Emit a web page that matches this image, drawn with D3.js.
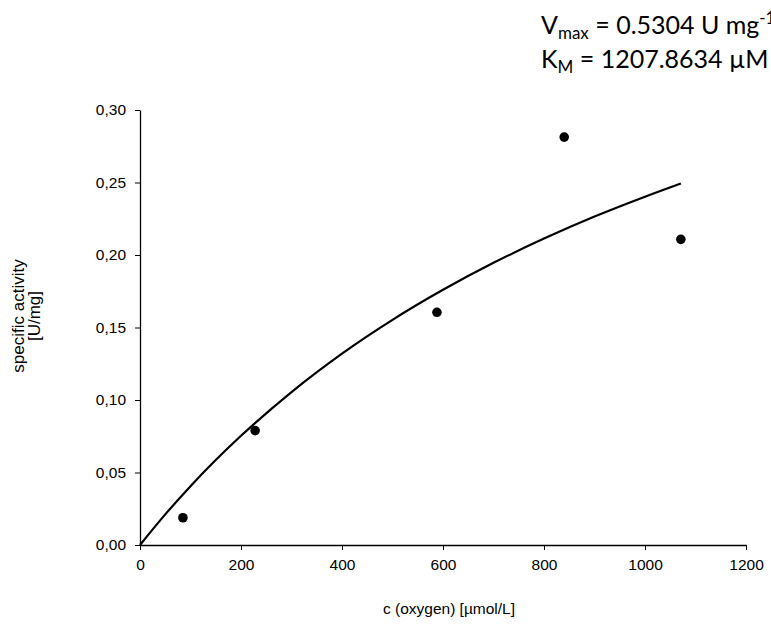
<html lang='en'>
  <head>
    <meta charset='UTF-8' />
    <script src='https://d3js.org/d3.v7.min.js'></script>
    <style>
      body { margin: 0; background: #fff; }
      .note { font-family: Lato, 'Open Sans', sans-serif; font-size: 25px; fill: #000; }
    </style>
    <title>Michaelis-Menten</title>
  </head>
  <body>
  <div id='chart'></div>
  <script>
  // measured points
  const concs = [85, 228, 588, 840, 1071];
  const activity = [0.0188, 0.0789, 0.1605, 0.2813, 0.2108];

  // fitted curve
  const curveX = [0, 50, 100, 200, 300, 400, 500, 600, 700, 800, 900, 1000, 1071];
  const curveY = [0, 0.0211, 0.0406, 0.0753, 0.1055, 0.1320, 0.1553, 0.1760, 0.1946, 0.2113, 0.2265, 0.2402, 0.2493];

  const xTicks = [0, 200, 400, 600, 800, 1000, 1200];
  const yTicks = [0, 0.05, 0.10, 0.15, 0.20, 0.25, 0.30];

  const width = 771;
  const height = 625;
  const axisFont = "'Liberation Sans', Arial, sans-serif";

  const svg = d3.select("#chart")
    .append("svg")
    .attr("width", width)
    .attr("height", height);

  const x = d3.scaleLinear().domain([0, 1200]).range([140, 746]);
  const y = d3.scaleLinear().domain([0, 0.30]).range([545, 110]);

  const fmt = (d) => d3.format(".2f")(d).replace(".", ",");

  //axes
  const gx = svg.append("g")
    .attr("transform", `translate(0,${y(0)})`)
    .call(d3.axisBottom(x).tickValues(xTicks).tickFormat(d3.format("d")).tickSize(5).tickPadding(9).tickSizeOuter(0));

  const gy = svg.append("g")
    .attr("transform", `translate(${x(0)},0)`)
    .call(d3.axisLeft(y).tickValues(yTicks).tickFormat(fmt).tickSize(5).tickPadding(9).tickSizeOuter(0));

  [gx, gy].forEach((g) => {
    g.attr("font-family", axisFont).attr("font-size", 15.5);
    g.select(".domain").attr("stroke", "#000").attr("stroke-width", 1.3);
    g.selectAll(".tick line").attr("stroke", "#000");
    g.selectAll(".tick text").attr("fill", "#000");
  });

  //titles
  svg.append("text")
    .attr("x", 449)
    .attr("y", 614)
    .attr("text-anchor", "middle")
    .attr("font-family", axisFont)
    .attr("font-size", 15.5)
    .text("c (oxygen) [µmol/L]");

  const yt = svg.append("text")
    .attr("transform", `translate(24,316) rotate(-90)`)
    .attr("text-anchor", "middle")
    .attr("font-family", axisFont)
    .attr("font-size", 17);
  yt.append("tspan").attr("x", 0).attr("dy", 0).text("specific activity");
  yt.append("tspan").attr("x", 0).attr("dy", 16).text("[U/mg]");

  //fit line
  const line = d3.line()
    .x((d, i) => x(curveX[i]))
    .y((d) => y(d))
    .curve(d3.curveMonotoneX);

  svg.append("path")
    .datum(curveY)
    .attr("fill", "none")
    .attr("stroke", "#000")
    .attr("stroke-width", 2.2)
    .attr("d", line);

  //points
  svg.selectAll("circle.pt")
    .data(activity)
    .join("circle")
    .attr("class", "pt")
    .attr("cx", (d, i) => x(concs[i]))
    .attr("cy", (d) => y(d))
    .attr("r", 4.8)
    .attr("fill", "#000");

  //parameters
  const t1 = svg.append("text").attr("class", "note").attr("x", 541).attr("y", 34);
  t1.append("tspan").text("V");
  t1.append("tspan").attr("font-size", 17).attr("dy", 5).text("max");
  t1.append("tspan").attr("dy", -5).text(" = 0.5304 U mg");
  t1.append("tspan").attr("font-size", 17).attr("dy", -10).text("-1");

  const t2 = svg.append("text").attr("class", "note").attr("x", 541).attr("y", 68);
  t2.append("tspan").text("K");
  t2.append("tspan").attr("font-size", 17).attr("dy", 5).text("M");
  t2.append("tspan").attr("dy", -5).text(" = 1207.8634 µM");
  </script>
  </body>
</html>
